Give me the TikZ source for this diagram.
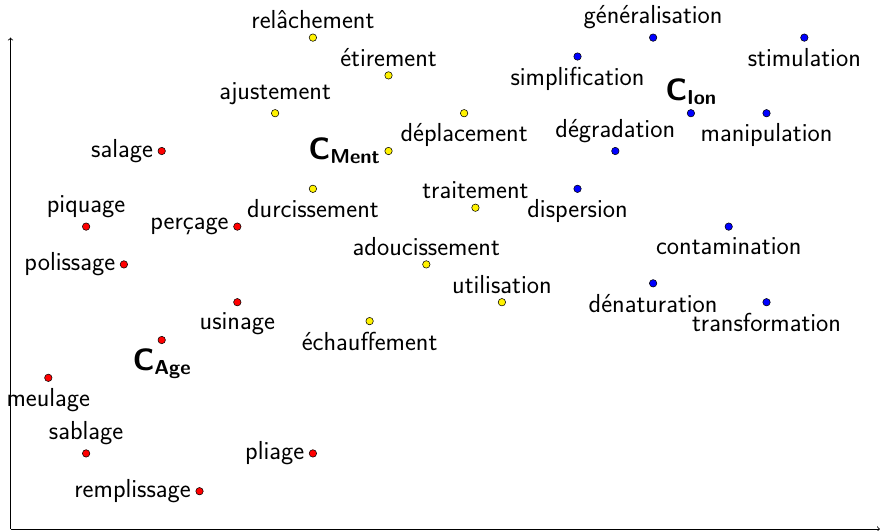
\documentclass[tikz,border=0pt]{standalone}
\usepackage{fontspec}
\newcommand\lblfont{\fontsize{19.6}{23}\selectfont\sffamily}
\newcommand\clabel[1]{{\sffamily\bfseries\fontsize{23.2}{26}\selectfont C\raisebox{-3.2pt}{\fontsize{15.2}{17}\selectfont #1}}}
\tikzset{
  dot/.style={circle, draw=black, line width=0.4pt, inner sep=0pt, minimum size=5.6pt},
  ment/.style={dot, fill=yellow},
  age/.style={dot, fill=red},
  ion/.style={dot, fill=blue},
  every label/.style={font=\lblfont},
  lbelow/.style={label={[label distance=1.5pt]below:#1}},
  axis/.style={->, line width=0.6pt}
}
\begin{document}
\begin{tikzpicture}
\useasboundingbox (-0.278,-0.026) rectangle (23.055,13.995);

% axes
\coordinate (O) at (0,0);
\coordinate (xend) at (23,0);
\coordinate (yend) at (0,13);
\draw[axis] (O) -- (xend);
\draw[axis] (O) -- (yend);

% yellow group
\node[ment, label=above:relâchement]   (relachement)   at (8,13) {};
\node[ment, label=above:étirement]     (etirement)     at (10,12) {};
\node[ment, label=above:ajustement]    (ajustement)    at (7,11) {};
\node[ment, lbelow=déplacement]        (deplacement)   at (12,11) {};
\node[ment, label={left:\clabel{Ment}}] (cment)        at (10,10) {};
\node[ment, lbelow=durcissement]       (durcissement)  at (8,9) {};
\node[ment, label=above:traitement]    (traitement)    at (12.3,8.5) {};
\node[ment, label=above:adoucissement] (adoucissement) at (11,7) {};
\node[ment, label=above:utilisation]   (utilisation)   at (13,6) {};
\node[ment, lbelow=échauffement]       (echauffement)  at (9.5,5.5) {};

% red group
\node[age, label=left:salage]       (salage)      at (4,10) {};
\node[age, label=above:piquage]     (piquage)     at (2,8) {};
\node[age, label=left:perçage]      (percage)     at (6,8) {};
\node[age, label=left:polissage]    (polissage)   at (3,7) {};
\node[age, lbelow=usinage]          (usinage)     at (6,6) {};
\node[age, label={below:\clabel{Age}}] (cage)     at (4,5) {};
\node[age, lbelow=meulage]          (meulage)     at (1,4) {};
\node[age, label=above:sablage]     (sablage)     at (2,2) {};
\node[age, label=left:remplissage]  (remplissage) at (5,1) {};
\node[age, label=left:pliage]       (pliage)      at (8,2) {};

% blue group
\node[ion, label=above:généralisation] (generalisation) at (17,13) {};
\node[ion, lbelow=stimulation]         (stimulation)    at (21,13) {};
\node[ion, lbelow=simplification]      (simplification) at (15,12.5) {};
\node[ion, label={above:\clabel{Ion}}] (cion)           at (18,11) {};
\node[ion, lbelow=manipulation]        (manipulation)   at (20,11) {};
\node[ion, label=above:dégradation]    (degradation)    at (16,10) {};
\node[ion, lbelow=dispersion]          (dispersion)     at (15,9) {};
\node[ion, lbelow=contamination]       (contamination)  at (19,8) {};
\node[ion, lbelow=dénaturation]        (denaturation)   at (17,6.5) {};
\node[ion, lbelow=transformation]      (transformation) at (20,6) {};
\end{tikzpicture}
\end{document}
